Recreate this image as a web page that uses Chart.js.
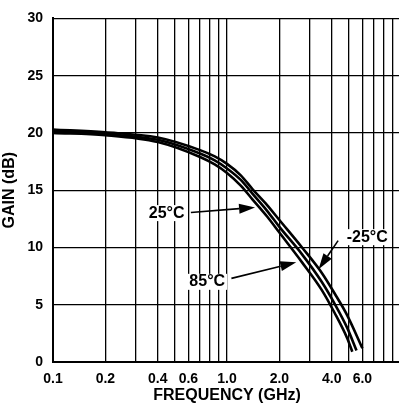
<!DOCTYPE html>
<html>
<head>
<meta charset="utf-8">
<script src="https://cdn.jsdelivr.net/npm/chart.js@4.4.1/dist/chart.umd.min.js"></script>
<style>
  html, body { margin: 0; padding: 0; background: #fff; overflow: hidden; }
  canvas { display: block; }
</style>
</head>
<body>
<canvas id="gain" width="402" height="410"></canvas>
<script>
// Gain vs. frequency at three case temperatures
const freqM25 = [0.1, 0.2, 0.4, 0.7, 0.85, 1.0, 1.2, 1.4, 1.7, 2.0, 2.7, 3.5, 4.15, 4.9, 6.0];
const gainM25 = [20.3, 20.05, 19.6, 18.5, 17.95, 17.3, 16.3, 15.1, 13.7, 12.4, 10.0, 7.8, 6.0, 4.1, 1.2];

const freq25 = [0.1, 0.2, 0.4, 0.7, 0.85, 1.0, 1.2, 1.4, 1.7, 2.0, 2.7, 3.5, 4.15, 4.9, 5.55];
const gain25 = [20.15, 19.9, 19.4, 18.2, 17.6, 16.9, 15.9, 14.7, 13.2, 11.8, 9.4, 7.0, 5.1, 3.0, 1.0];

const freq85 = [0.1, 0.2, 0.4, 0.7, 0.85, 1.0, 1.2, 1.4, 1.7, 2.0, 2.7, 3.5, 4.15, 4.9, 5.25];
const gain85 = [20.0, 19.8, 19.2, 17.9, 17.25, 16.5, 15.4, 14.2, 12.7, 11.3, 8.7, 6.3, 4.3, 2.1, 0.9];

// Frequency grid (every 1-2-...-9 step per decade) and the values that carry labels
const freqGrid = [0.1, 0.2, 0.3, 0.4, 0.5, 0.6, 0.7, 0.8, 0.9, 1, 2, 3, 4, 5, 6, 7, 8, 9, 10];
const freqLabels = [0.1, 0.2, 0.4, 0.6, 1.0, 2.0, 4.0, 6.0];
const gainTicks = [0, 5, 10, 15, 20, 25, 30];

// Temperature callouts: text anchor and arrow (tail -> tip), in frequency / gain units
const callouts = [
  { text: '25°C',  at: [0.45, 13.0], tail: [0.62, 13.05], tip: [1.45, 13.5] },
  { text: '85°C',  at: [0.77, 7.0],  tail: [1.06, 7.3],   tip: [2.5, 8.7] },
  { text: '-25°C', at: [6.4, 10.9],  tail: [4.35, 10.6],  tip: [3.36, 8.1] }
];

const toPoints = (xs, ys) => xs.map((x, i) => ({ x: x, y: ys[i] }));

const calloutPlugin = {
  id: 'callouts',
  afterDatasetsDraw(chart) {
    const ctx = chart.ctx;
    const xs = chart.scales.x, ys = chart.scales.y;
    ctx.save();
    ctx.fillStyle = '#000';
    ctx.strokeStyle = '#000';
    ctx.font = 'bold 16px "Liberation Sans", Arial, sans-serif';
    ctx.textAlign = 'center';
    ctx.textBaseline = 'middle';
    callouts.forEach(c => {
      const tx = xs.getPixelForValue(c.at[0]), ty = ys.getPixelForValue(c.at[1]);
      const ax = xs.getPixelForValue(c.tail[0]), ay = ys.getPixelForValue(c.tail[1]);
      const bx = xs.getPixelForValue(c.tip[0]), by = ys.getPixelForValue(c.tip[1]);
      // white backing behind the label so grid lines do not cross the text
      const w = ctx.measureText(c.text).width;
      ctx.fillStyle = '#fff';
      ctx.fillRect(tx - w / 2 - 2, ty - 8, w + 4, 16);
      ctx.fillStyle = '#000';
      ctx.fillText(c.text, tx, ty);
      const ang = Math.atan2(by - ay, bx - ax);
      const headLen = 16, headHalf = 5;
      const hx = bx - headLen * Math.cos(ang), hy = by - headLen * Math.sin(ang);
      ctx.lineWidth = 1.6;
      ctx.beginPath();
      ctx.moveTo(ax, ay);
      ctx.lineTo(hx, hy);
      ctx.stroke();
      ctx.beginPath();
      ctx.moveTo(bx, by);
      ctx.lineTo(hx + headHalf * Math.sin(ang), hy - headHalf * Math.cos(ang));
      ctx.lineTo(hx - headHalf * Math.sin(ang), hy + headHalf * Math.cos(ang));
      ctx.closePath();
      ctx.fill();
    });
    ctx.restore();
  }
};

const lineStyle = {
  borderColor: '#000',
  borderWidth: 2.6,
  pointRadius: 0,
  fill: false,
  cubicInterpolationMode: 'monotone'
};

const tickFont = { family: '"Liberation Sans", Arial, sans-serif', size: 14, weight: 'bold' };
const titleFont = { family: '"Liberation Sans", Arial, sans-serif', size: 16, weight: 'bold' };

new Chart(document.getElementById('gain'), {
  type: 'line',
  data: {
    datasets: [
      Object.assign({ label: '-25°C', data: toPoints(freqM25, gainM25) }, lineStyle),
      Object.assign({ label: '25°C',  data: toPoints(freq25, gain25) }, lineStyle),
      Object.assign({ label: '85°C',  data: toPoints(freq85, gain85) }, lineStyle)
    ]
  },
  options: {
    responsive: false,
    animation: false,
    events: [],
    layout: { padding: { top: 17, right: 1, left: 0, bottom: 0 } },
    plugins: { legend: { display: false }, tooltip: { enabled: false } },
    scales: {
      x: {
        type: 'logarithmic',
        min: 0.1,
        max: 10,
        afterBuildTicks(scale) { scale.ticks = freqGrid.map(v => ({ value: v })); },
        afterFit(scale) {
          scale.height = 48;
          scale.paddingLeft = 0;
          scale.paddingRight = 0;
        },
        ticks: {
          autoSkip: false,
          maxRotation: 0,
          padding: 9,
          color: '#000',
          font: tickFont,
          callback(value) {
            const hit = freqLabels.find(l => Math.abs(l - value) < 1e-9);
            return hit === undefined ? '' : hit.toFixed(1);
          }
        },
        grid: { color: '#000', lineWidth: 1.3, drawTicks: false },
        border: { color: '#000', width: 2 },
        title: { display: true, text: 'FREQUENCY (GHz)', color: '#000', font: titleFont, padding: { top: 0, bottom: 5 } }
      },
      y: {
        min: 0,
        max: 30,
        afterBuildTicks(scale) { scale.ticks = gainTicks.map(v => ({ value: v })); },
        afterFit(scale) { scale.width = 53; },
        ticks: { padding: 10, color: '#000', font: tickFont },
        grid: { color: '#000', lineWidth: 1.3, drawTicks: false },
        border: { color: '#000', width: 2 },
        title: { display: true, text: 'GAIN (dB)', color: '#000', font: titleFont, padding: { top: 0, bottom: 0 } }
      }
    }
  },
  plugins: [calloutPlugin]
});
</script>
</body>
</html>
